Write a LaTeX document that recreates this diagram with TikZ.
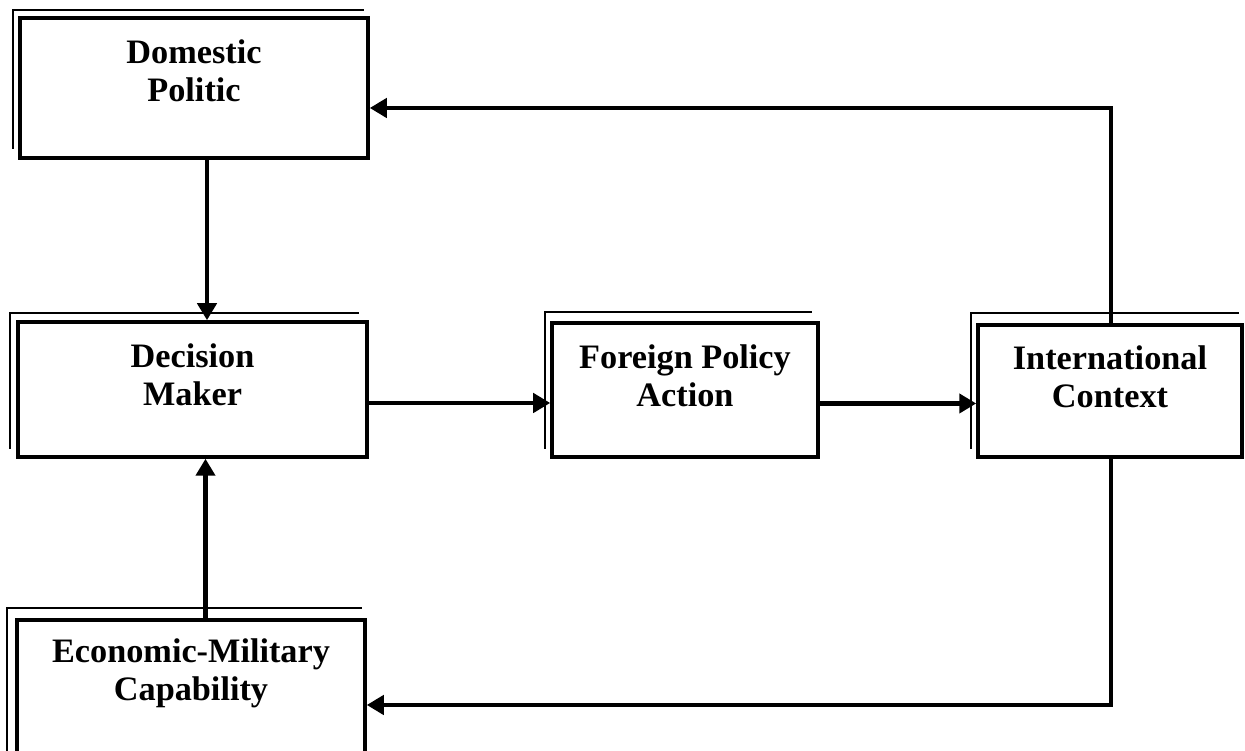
\documentclass[tikz,border=0pt]{standalone}
\usepackage{fontspec}
\setmainfont{Liberation Serif}
\usetikzlibrary{positioning,calc,arrows.meta}

\tikzset{
    box/.style={draw, line width=2pt, inner sep=0pt},
    ghost/.style={draw, line width=1.1pt},
    lbl/.style={align=center, font=\fontsize{19.5}{21.5}\selectfont\bfseries},
    flow/.style={-{Triangle[length=3.4mm,width=3.8mm]}, line width=2.5pt}
}

\begin{document}
\begin{tikzpicture}
    \useasboundingbox (0,0) rectangle (24.9,15.02);

    % Boxes
    \node[box, minimum width=6.96cm, minimum height=2.8cm] (dom) at (3.88,13.26) {};
    \node[box, minimum width=6.98cm, minimum height=2.7cm] (dec) at (3.85,7.23) {};
    \node[box, minimum width=5.32cm, minimum height=2.68cm] (fpa) at (13.7,7.22) {};
    \node[box, minimum width=5.28cm, minimum height=2.64cm] (int) at (22.2,7.2) {};
    \node[box, minimum width=6.96cm, minimum height=2.72cm] (eco) at (3.82,1.26) {};

    % Offset outlines of the boxes
    \draw[ghost] ([shift={(-0.1,0.22)}]dom.south west) |- ([shift={(-0.12,0.12)}]dom.north east);
    \draw[ghost] ([shift={(-0.12,0.2)}]dec.south west) |- ([shift={(-0.2,0.14)}]dec.north east);
    \draw[ghost] ([shift={(-0.1,0.2)}]fpa.south west) |- ([shift={(-0.16,0.18)}]fpa.north east);
    \draw[ghost] ([shift={(-0.1,0.2)}]int.south west) |- ([shift={(-0.1,0.2)}]int.north east);
    \draw[ghost] ([shift={(-0.16,0)}]eco.south west) |- ([shift={(-0.1,0.2)}]eco.north east);

    % Labels
    \node[lbl] (dom-txt) at ([yshift=0.34cm]dom.center) {Domestic\\Politic};
    \node[lbl] (dec-txt) at ([yshift=0.3cm]dec.center) {Decision\\Maker};
    \node[lbl] (fpa-txt) at ([yshift=0.28cm]fpa.center) {Foreign Policy\\Action};
    \node[lbl] (int-txt) at ([yshift=0.29cm]int.center) {International\\Context};
    \node[lbl] (eco-txt) at ([yshift=0.3cm]eco.center) {Economic-Military\\Capability};

    % Arrows
    \coordinate (dom-out) at ([xshift=0.26cm]dom.south);
    \coordinate (eco-out) at ([xshift=0.29cm]eco.north);
    \coordinate (dec-out) at ([yshift=-0.27cm]dec.east);
    \coordinate (fpa-out) at ([yshift=-0.27cm]fpa.east);
    \draw[flow] (dom-out) -- (dom-out |- dec.north);
    \draw[flow] (eco-out) -- (eco-out |- dec.south);
    \draw[flow] (dec-out) -- (dec-out -| fpa.west);
    \draw[flow] (fpa-out) -- (fpa-out -| int.west);
    \draw[flow] ([xshift=0.02cm]int.north) |- ([yshift=-0.4cm]dom.east);
    \draw[flow] ([xshift=0.02cm]int.south) |- ([yshift=-0.34cm]eco.east);
\end{tikzpicture}
\end{document}
